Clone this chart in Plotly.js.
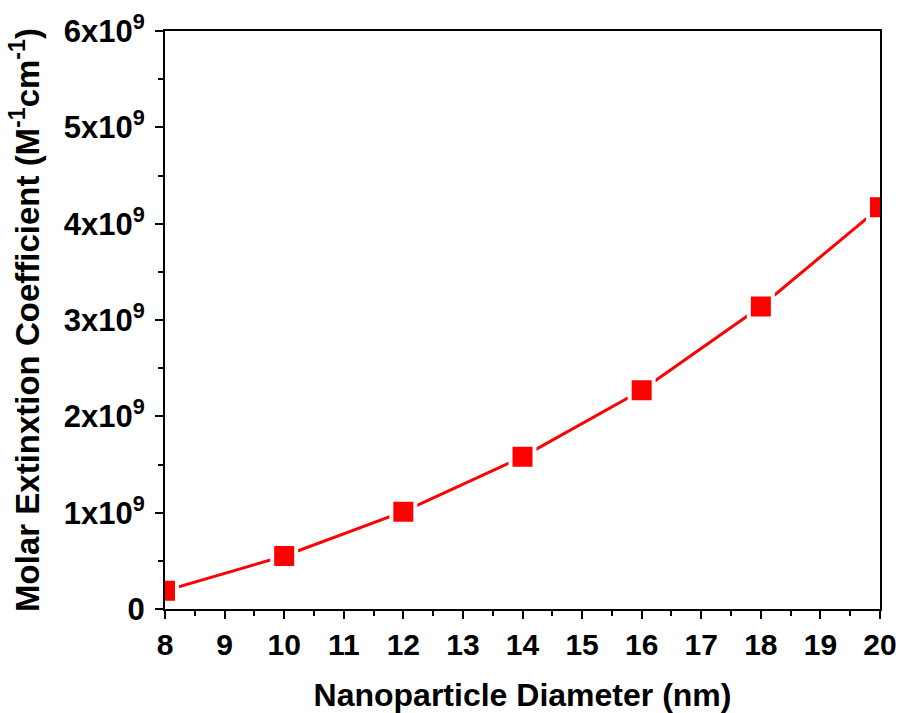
<!DOCTYPE html>
<html>
<head>
<meta charset="utf-8">
<script src="https://cdn.plot.ly/plotly-3.0.1.min.js"></script>
<style>html,body{margin:0;padding:0;background:#fff;}#chart{width:900px;height:713px;}</style>
</head>
<body>
<div id="chart"></div>
<script>
const diameters = [8, 10, 12, 14, 16, 18, 20];
const extinction = [0.19e9, 0.55e9, 1.01e9, 1.58e9, 2.27e9, 3.14e9, 4.17e9];
const yTickVals = [0, 1e9, 2e9, 3e9, 4e9, 5e9, 6e9];
const yTickText = ["0", "1x10<sup>9</sup>", "2x10<sup>9</sup>", "3x10<sup>9</sup>", "4x10<sup>9</sup>", "5x10<sup>9</sup>", "6x10<sup>9</sup>"];
const xTickVals = [8, 9, 10, 11, 12, 13, 14, 15, 16, 17, 18, 19, 20];

const fontFam = "Arial, 'Liberation Sans', sans-serif";

const trace = {
  x: diameters,
  y: extinction,
  type: 'scatter',
  mode: 'lines+markers',
  line: {color: '#ff0000', width: 3},
  marker: {symbol: 'square', size: 24, color: '#ff0000', line: {color: '#ffffff', width: 4}},
  cliponaxis: true,
  hoverinfo: 'x+y'
};

const layout = {
  width: 900,
  height: 713,
  margin: {l: 165, r: 20, t: 31, b: 104},
  paper_bgcolor: '#ffffff',
  plot_bgcolor: '#ffffff',
  showlegend: false,
  font: {family: fontFam, color: '#000000', weight: 'bold'},
  xaxis: {
    range: [8, 20],
    tickvals: xTickVals,
    ticktext: xTickVals.map(String),
    ticks: 'outside',
    ticklen: 8,
    tickwidth: 2,
    tickcolor: '#000',
    showline: true,
    linewidth: 2,
    linecolor: '#000',
    mirror: true,
    showgrid: false,
    zeroline: false,
    tickfont: {size: 30, family: fontFam, weight: 'bold', color: '#000'},
    minor: {ticks: 'outside', ticklen: 5, tickwidth: 2, tickcolor: '#000', dtick: 0.5, tick0: 8, showgrid: false},
    title: {text: 'Nanoparticle Diameter (nm)', font: {size: 32, family: fontFam, weight: 'bold', color: '#000'}, standoff: 44}
  },
  yaxis: {
    range: [0, 6e9],
    tickvals: yTickVals,
    ticktext: yTickText,
    ticks: 'outside',
    ticklen: 8,
    tickwidth: 2,
    tickcolor: '#000',
    showline: true,
    linewidth: 2,
    linecolor: '#000',
    mirror: true,
    showgrid: false,
    zeroline: false,
    ticklabelstandoff: 4,
    tickfont: {size: 31, family: fontFam, weight: 'bold', color: '#000'},
    minor: {ticks: 'outside', ticklen: 5, tickwidth: 2, tickcolor: '#000', dtick: 0.5e9, tick0: 0, showgrid: false},
    title: {text: 'Molar Extinxtion Coefficient (M<sup>-1</sup>cm<sup>-1</sup>)', font: {size: 33, family: fontFam, weight: 'bold', color: '#000'}, standoff: 14}
  }
};

Plotly.newPlot('chart', [trace], layout, {displayModeBar: false, staticPlot: true});
</script>
</body>
</html>
